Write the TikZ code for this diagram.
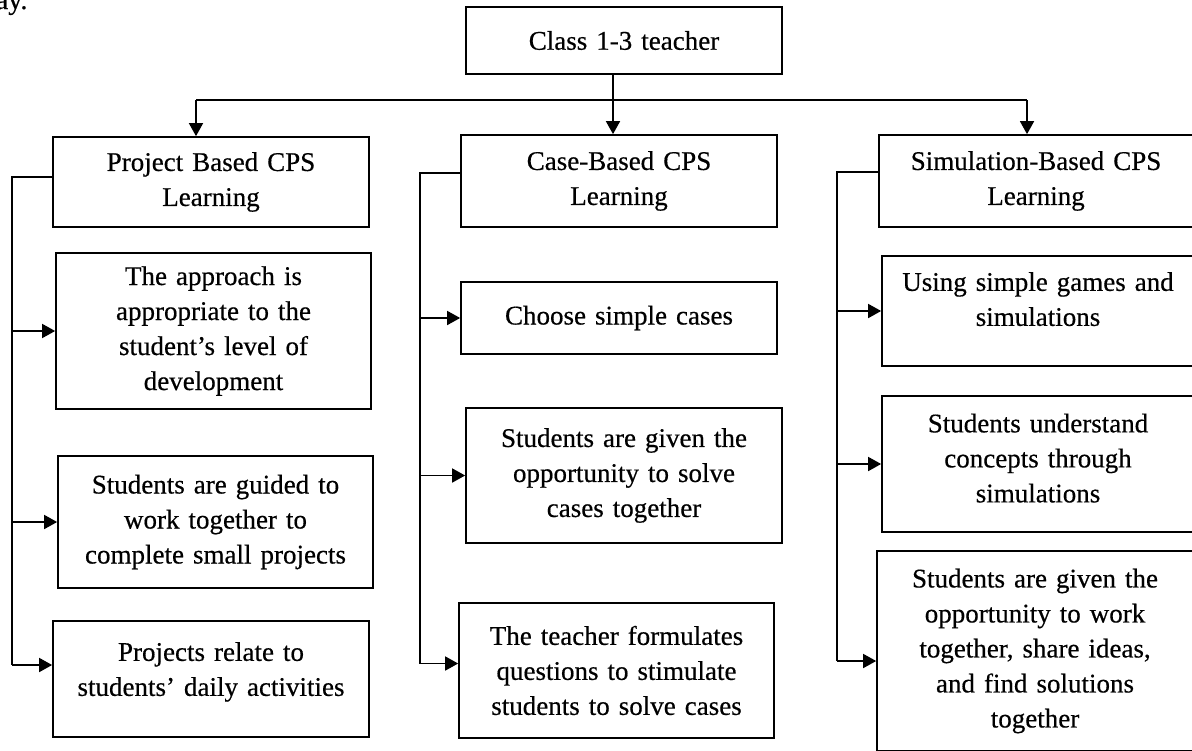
\documentclass[tikz,border=0pt]{standalone}
\usepackage{fontspec}
\setmainfont{Liberation Serif}[FakeBold=0.5]
\usetikzlibrary{arrows.meta}
\begin{document}
\begin{tikzpicture}[x=0.5pt,y=-0.5pt,line width=0.8pt,
        box/.style={draw,line width=0.85pt,align=center,inner sep=2pt,
            text width=152pt,font=\fontsize{13.5}{17.5}\selectfont},
        arr/.style={-{Triangle[length=6.5pt,width=7pt]}}]
    \useasboundingbox (0,0) rectangle (1192,750);
    % fragment of the text above the figure
    \node[anchor=base west,inner sep=0pt,font=\fontsize{14}{16}\selectfont] (frag) at (-5,9) {ay.};
    % top and second level
    \node[box,minimum width=158pt,minimum height=33.5pt] (teacher) at (624,40.5) {Class 1-3 teacher};
    \node[box,minimum width=158pt,minimum height=45pt] (proj) at (211,182) {Project Based CPS\\Learning};
    \node[box,minimum width=158pt,minimum height=46pt] (case) at (619,181) {Case-Based CPS\\Learning};
    \node[box,minimum width=157pt,minimum height=46pt] (sim) at (1036,181) {Simulation-Based CPS\\Learning};
    % project based
    \node[box,minimum width=157.5pt,minimum height=78pt] (pa1) at (213.5,331) {The approach is\\appropriate to the\\student's level of\\development};
    \node[box,minimum width=157.5pt,minimum height=66pt] (pa2) at (215.5,522) {Students are guided to\\work together to\\complete small projects};
    \node[box,minimum width=158pt,minimum height=58pt] (pa3) at (211,679) {Projects relate to\\students' daily activities\\[-7.5pt]\mbox{}};
    % case based
    \node[box,minimum width=158pt,minimum height=36pt] (cb1) at (619,318) {Choose simple cases};
    \node[box,minimum width=158pt,minimum height=67.5pt] (cb2) at (624,475.5) {Students are given the\\opportunity to solve\\cases together};
    \node[box,minimum width=157.5pt,minimum height=67.5pt] (cb3) at (616.5,670.5) {The teacher formulates\\questions to stimulate\\students to solve cases};
    % simulation based
    \node[box,minimum width=155pt,minimum height=55pt] (sc1) at (1038,311) {Using simple games and\\simulations\\[-5.5pt]\mbox{}};
    \node[box,minimum width=155pt,minimum height=68pt] (sc2) at (1038,464) {Students understand\\concepts through\\simulations\\[-11.5pt]\mbox{}};
    \node[box,minimum width=158pt,minimum height=100pt] (sc3) at (1035,651) {Students are given the\\opportunity to work\\together, share ideas,\\and find solutions\\together};

    % teacher to the three approaches
    \coordinate (busL) at (196,100);
    \coordinate (busM) at (613,100);
    \coordinate (busR) at (1027,100);
    \draw[arr] (teacher.south -| busM) -- (busM |- case.north);
    \draw (busL) -- (busR);
    \draw[arr] (busL) -- (busL |- proj.north);
    \draw[arr] (busR) -- (busR |- sim.north);

    % approaches to their points
    \coordinate (pt) at (12,177);
    \coordinate (ct) at (420,173);
    \coordinate (st) at (837,172);
    \coordinate (pa3in) at ([yshift=7pt]pa3.west);
    \coordinate (cb3in) at ([yshift=3.5pt]cb3.west);
    \coordinate (sc3in) at ([yshift=-5pt]sc3.west);
    \draw (proj.west |- pt) -- (pt) -- (pt |- pa3in);
    \draw (case.west |- ct) -- (ct) -- (ct |- cb3in);
    \draw (sim.west |- st) -- (st) -- (st |- sc3in);
    \foreach \c in {pa1,pa2}
        \draw[arr] (pt |- \c.west) -- (\c.west);
    \foreach \c in {cb1,cb2}
        \draw[arr] (ct |- \c.west) -- (\c.west);
    \foreach \c in {sc1,sc2}
        \draw[arr] (st |- \c.west) -- (\c.west);
    \draw[arr] (pt |- pa3in) -- (pa3in);
    \draw[arr] (ct |- cb3in) -- (cb3in);
    \draw[arr] (st |- sc3in) -- (sc3in);
\end{tikzpicture}
\end{document}
